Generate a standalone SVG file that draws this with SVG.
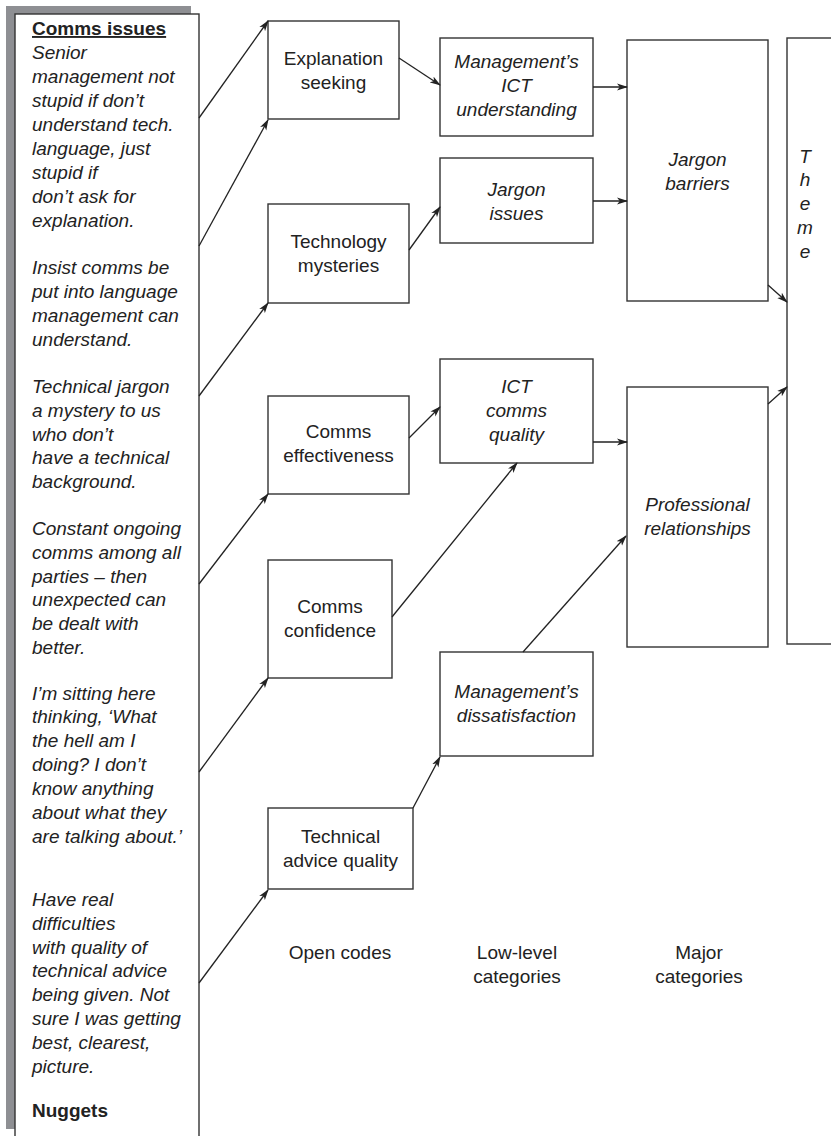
<svg xmlns="http://www.w3.org/2000/svg" width="831" height="1136" viewBox="0 0 831 1136">
  <defs>
    <marker id="arrow" markerWidth="11" markerHeight="8" refX="10" refY="4" orient="auto" markerUnits="userSpaceOnUse">
      <path d="M0,0.5 L11,4 L0,7.5 L2.8,4 z" fill="#222"/>
    </marker>
    <style>
      .box { fill: #fff; stroke: #333; stroke-width: 1.4; }
      .t { font-family: "Liberation Sans", Arial, sans-serif; font-size: 19px; fill: #222; }
      .it { font-style: italic; }
      .c { text-anchor: middle; }
      .b { font-weight: bold; }
      .link { fill: none; stroke: #222; stroke-width: 1.3; marker-end: url(#arrow); }
    </style>
  </defs>
  <rect width="831" height="1136" fill="#fff"/>

  <!-- notes panel with shadow -->
  <g id="notes">
    <rect x="6" y="6" width="185" height="1123" fill="#8e8f93"/>
    <rect x="15" y="14" width="184" height="1140" class="box"/>
    <text class="t b" x="32" y="35" text-decoration="underline">Comms issues</text>
    <text class="t it" x="32">
      <tspan x="32" y="59">Senior</tspan>
      <tspan x="32" y="83">management not</tspan>
      <tspan x="32" y="107">stupid if don’t</tspan>
      <tspan x="32" y="131">understand tech.</tspan>
      <tspan x="32" y="155">language, just</tspan>
      <tspan x="32" y="179">stupid if</tspan>
      <tspan x="32" y="203">don’t ask for</tspan>
      <tspan x="32" y="227">explanation.</tspan>
      <tspan x="32" y="274">Insist comms be</tspan>
      <tspan x="32" y="298">put into language</tspan>
      <tspan x="32" y="322">management can</tspan>
      <tspan x="32" y="346">understand.</tspan>
      <tspan x="32" y="393">Technical jargon</tspan>
      <tspan x="32" y="417">a mystery to us</tspan>
      <tspan x="32" y="441">who don’t</tspan>
      <tspan x="32" y="464">have a technical</tspan>
      <tspan x="32" y="488">background.</tspan>
      <tspan x="32" y="535">Constant ongoing</tspan>
      <tspan x="32" y="559">comms among all</tspan>
      <tspan x="32" y="583">parties – then</tspan>
      <tspan x="32" y="606">unexpected can</tspan>
      <tspan x="32" y="630">be dealt with</tspan>
      <tspan x="32" y="654">better.</tspan>
      <tspan x="32" y="700">I’m sitting here</tspan>
      <tspan x="32" y="723">thinking, ‘What</tspan>
      <tspan x="32" y="747">the hell am I</tspan>
      <tspan x="32" y="771">doing? I don’t</tspan>
      <tspan x="32" y="795">know anything</tspan>
      <tspan x="32" y="819">about what they</tspan>
      <tspan x="32" y="843">are talking about.’</tspan>
      <tspan x="32" y="906">Have real</tspan>
      <tspan x="32" y="930">difficulties</tspan>
      <tspan x="32" y="954">with quality of</tspan>
      <tspan x="32" y="977">technical advice</tspan>
      <tspan x="32" y="1001">being given. Not</tspan>
      <tspan x="32" y="1025">sure I was getting</tspan>
      <tspan x="32" y="1049">best, clearest,</tspan>
      <tspan x="32" y="1073">picture.</tspan>
    </text>
    <text class="t b" x="32" y="1117">Nuggets</text>
  </g>

  <!-- open codes -->
  <g id="explanation-seeking">
    <rect x="268" y="21" width="131" height="98" class="box"/>
    <text class="t c" x="333.5" y="65">Explanation</text>
    <text class="t c" x="333.5" y="89">seeking</text>
  </g>
  <g id="technology-mysteries">
    <rect x="268" y="204" width="141" height="99" class="box"/>
    <text class="t c" x="338.5" y="248">Technology</text>
    <text class="t c" x="338.5" y="272">mysteries</text>
  </g>
  <g id="comms-effectiveness">
    <rect x="268" y="396" width="141" height="98" class="box"/>
    <text class="t c" x="338.5" y="438">Comms</text>
    <text class="t c" x="338.5" y="462">effectiveness</text>
  </g>
  <g id="comms-confidence">
    <rect x="268" y="560" width="124" height="118" class="box"/>
    <text class="t c" x="330" y="613">Comms</text>
    <text class="t c" x="330" y="637">confidence</text>
  </g>
  <g id="technical-advice-quality">
    <rect x="268" y="808" width="145" height="81" class="box"/>
    <text class="t c" x="340.5" y="843">Technical</text>
    <text class="t c" x="340.5" y="867">advice quality</text>
  </g>

  <!-- low-level categories -->
  <g id="management-ict-understanding">
    <rect x="440" y="38" width="153" height="98" class="box"/>
    <text class="t it c" x="516.5" y="68">Management’s</text>
    <text class="t it c" x="516.5" y="92">ICT</text>
    <text class="t it c" x="516.5" y="116">understanding</text>
  </g>
  <g id="jargon-issues">
    <rect x="440" y="158" width="153" height="85" class="box"/>
    <text class="t it c" x="516.5" y="196">Jargon</text>
    <text class="t it c" x="516.5" y="220">issues</text>
  </g>
  <g id="ict-comms-quality">
    <rect x="440" y="359" width="153" height="104" class="box"/>
    <text class="t it c" x="516.5" y="393">ICT</text>
    <text class="t it c" x="516.5" y="417">comms</text>
    <text class="t it c" x="516.5" y="441">quality</text>
  </g>
  <g id="management-dissatisfaction">
    <rect x="440" y="652" width="153" height="104" class="box"/>
    <text class="t it c" x="516.5" y="698">Management’s</text>
    <text class="t it c" x="516.5" y="722">dissatisfaction</text>
  </g>

  <!-- major categories -->
  <g id="jargon-barriers">
    <rect x="627" y="40" width="141" height="261" class="box"/>
    <text class="t it c" x="697.5" y="166">Jargon</text>
    <text class="t it c" x="697.5" y="190">barriers</text>
  </g>
  <g id="professional-relationships">
    <rect x="627" y="387" width="141" height="260" class="box"/>
    <text class="t it c" x="697.5" y="511">Professional</text>
    <text class="t it c" x="697.5" y="535">relationships</text>
  </g>

  <!-- theme -->
  <g id="theme">
    <rect x="787" y="38" width="70" height="606" class="box"/>
    <text class="t it c" x="805" y="163">T</text>
    <text class="t it c" x="805" y="186">h</text>
    <text class="t it c" x="805" y="210">e</text>
    <text class="t it c" x="805" y="234">m</text>
    <text class="t it c" x="805" y="258">e</text>
  </g>

  <!-- column captions -->
  <g id="captions">
    <text class="t c" x="340" y="959">Open codes</text>
    <text class="t c" x="517" y="959">Low-level</text>
    <text class="t c" x="517" y="983">categories</text>
    <text class="t c" x="699" y="959">Major</text>
    <text class="t c" x="699" y="983">categories</text>
  </g>

  <!-- connectors -->
  <g id="connectors">
    <line class="link" x1="199" y1="118" x2="268" y2="21"/>
    <line class="link" x1="199" y1="246" x2="268" y2="120"/>
    <line class="link" x1="199" y1="396" x2="268" y2="303"/>
    <line class="link" x1="199" y1="584" x2="268" y2="494"/>
    <line class="link" x1="199" y1="772" x2="268" y2="678"/>
    <line class="link" x1="199" y1="983" x2="268" y2="890"/>

    <line class="link" x1="399" y1="58" x2="440" y2="85"/>
    <line class="link" x1="409" y1="250" x2="440" y2="207"/>
    <line class="link" x1="409" y1="438" x2="440" y2="407"/>
    <line class="link" x1="392" y1="617" x2="517" y2="463"/>
    <line class="link" x1="413" y1="808" x2="440" y2="757"/>

    <line class="link" x1="593" y1="87" x2="627" y2="87"/>
    <line class="link" x1="593" y1="201" x2="627" y2="201"/>
    <line class="link" x1="593" y1="442" x2="627" y2="442"/>
    <line class="link" x1="523" y1="652" x2="626" y2="536"/>

    <line class="link" x1="768" y1="285" x2="787" y2="302"/>
    <line class="link" x1="768" y1="404" x2="787" y2="387"/>
  </g>
</svg>
